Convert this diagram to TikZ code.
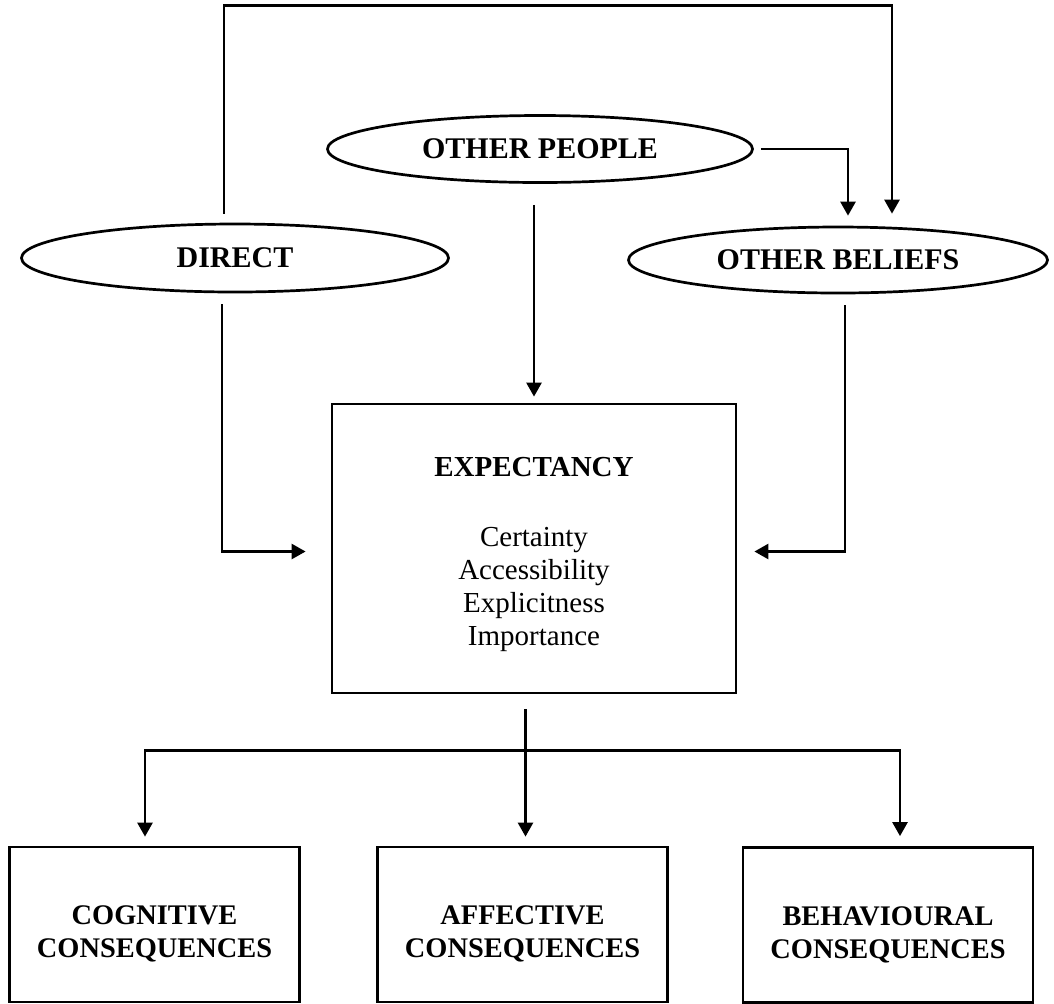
\documentclass[tikz,border=0pt]{standalone}
\usepackage{fontspec}
\setmainfont{Liberation Serif}
\usetikzlibrary{arrows.meta,shapes.geometric,calc}
\begin{document}
\begin{tikzpicture}[x=0.5pt,y=-0.5pt,
  every node/.style={font=\fontsize{14.5}{16.5}\selectfont},
  oval/.style={ellipse,draw,line width=1.35pt,inner sep=0pt,font=\fontsize{15}{17}\selectfont\bfseries},
  box/.style={rectangle,draw,line width=1.4pt,inner sep=0pt,align=center},
  conbox/.style={box,minimum width=145pt,minimum height=77.5pt,font=\fontsize{14.2}{16.5}\selectfont\bfseries},
  link/.style={line width=1.3pt},
  arr/.style={link,-{Triangle[length=7pt,width=7.5pt]}}]
\useasboundingbox (0,0) rectangle (1054,1003);

% nodes
\node[oval,minimum width=213.5pt,minimum height=34pt] (direct) at (235,258) {DIRECT};
\node[oval,minimum width=212.5pt,minimum height=33.5pt] (people) at (540,149) {OTHER PEOPLE};
\node[oval,minimum width=209.5pt,minimum height=33pt] (beliefs) at (838,260) {OTHER BELIEFS};
\node[box,minimum width=202pt,minimum height=144.5pt] (expect) at (534,548.5)
  {\rule{0pt}{16pt}\textbf{EXPECTANCY}\\[18.5pt]Certainty\\Accessibility\\Explicitness\\Importance};
\node[conbox] (cog) at (154.5,924.5) {\rule{0pt}{19pt}COGNITIVE\\CONSEQUENCES};
\node[conbox] (aff) at (522.5,924.5) {\rule{0pt}{19pt}AFFECTIVE\\CONSEQUENCES};
\node[conbox] (beh) at (888,925) {\rule{0pt}{19pt}BEHAVIOURAL\\CONSEQUENCES};

% connectors
\coordinate (dtop) at ($(direct.north)+(-11,-9)$);
\coordinate (btop) at ($(beliefs.north)+(54,-12)$);
\draw[arr] (dtop) -- ++(0,-208) -| (btop);

\coordinate (pout) at ($(people.east)+(7,0)$);
\coordinate (bin) at ($(beliefs.north)+(10,-10)$);
\draw[arr] (pout) -| (bin);

\draw[arr] ($(people.south -| expect.north)+(0,21)$) -- ($(expect.north)+(0,-6)$);

\draw[arr] ($(direct.south)+(-13,11)$) |- ($(expect.west)+(-25,3)$);
\draw[arr] ($(beliefs.south)+(7,11)$) |- ($(expect.east)+(17,3)$);

\draw[arr] ($(expect.south -| aff.north)+(3,15)$) -- ($(aff.north)+(3,-9)$);
\coordinate (hub) at ($(aff.north)+(3,-95)$);
\draw[arr] (hub) -| ($(cog.north)+(-9.5,-9)$);
\draw[arr] (hub) -| ($(beh.north)+(12,-10)$);
\end{tikzpicture}
\end{document}
